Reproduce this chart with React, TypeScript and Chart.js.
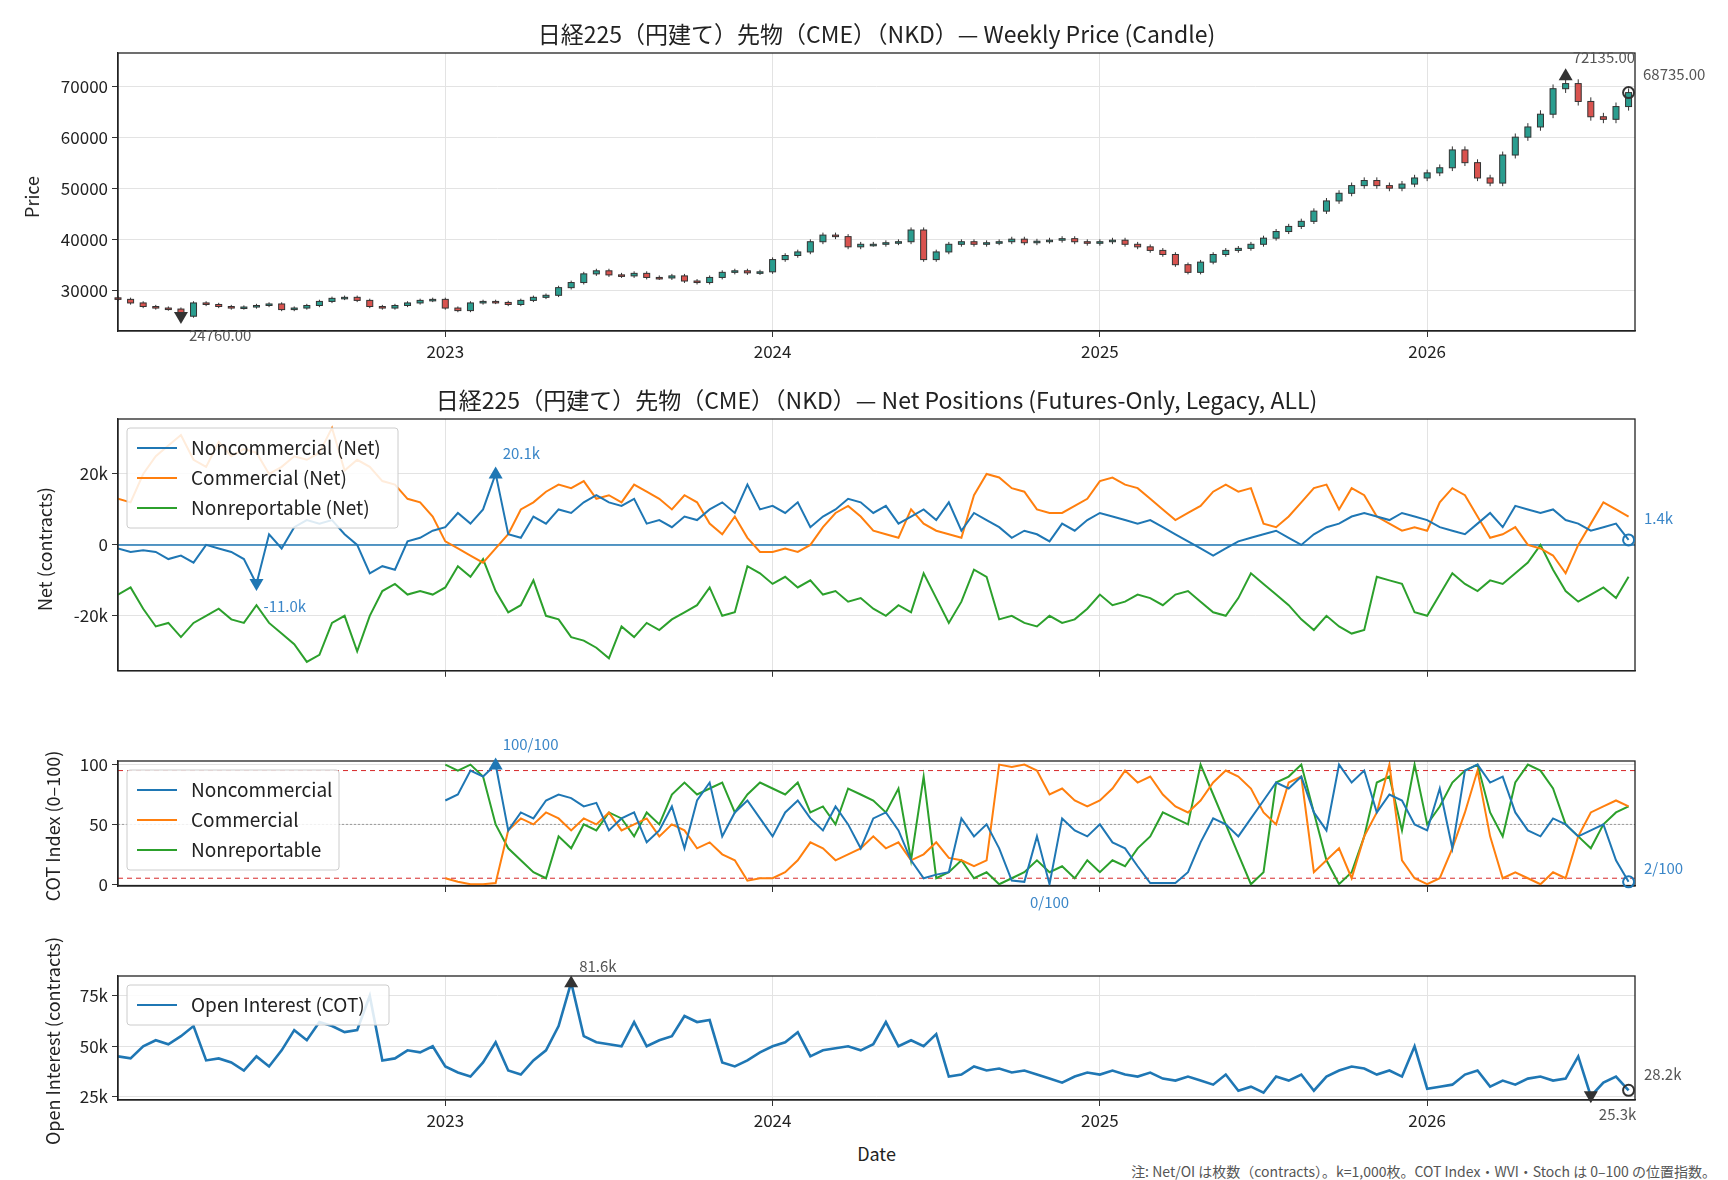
import React, { useEffect, useRef } from 'react';
import { Chart, registerables } from 'chart.js';
Chart.register(...registerables);

const START = 2022.0;
const STEP = 1 / 26;
const X_MIN = 2022.0;
const X_MAX = 2026.635;
const X_TICKS = [2023, 2024, 2025, 2026];

const CLOSE = [
  28200, 27500, 26800, 26500, 26300, 24900, 27500, 27200, 26800, 26500, 26700, 27000, 27300, 26200, 26500, 27000, 27800, 28400, 28600, 28000, 26800, 26500, 27000, 27500, 28000, 28200,
  26500, 26000, 27500, 27800, 27600, 27200, 28000, 28600, 29000, 30500, 31500, 33200, 33800, 33000, 32800, 33300, 32500, 32400, 32800, 31800, 31500, 32500, 33500, 33800, 33400, 33600,
  36000, 36800, 37500, 39500, 40800, 40500, 38500, 39000, 39000, 39300, 39500, 41800, 36000, 37500, 39000, 39500, 39000, 39300, 39500, 40000, 39300, 39600, 39800, 40100, 39500, 39200,
  39500, 39800, 39000, 38500, 37800, 37000, 35000, 33500, 35500, 37000, 37800, 38200, 39000, 40200, 41500, 42500, 43500, 45500, 47500, 49000, 50500, 51500, 50500, 50000, 50800, 52000,
  53000, 54000, 57500, 55000, 52000, 51000, 56500, 60000, 62000, 64500, 69500, 70500, 67000, 64000, 63500, 66000, 68735,
];
const PRICE_LOW = 24760;
const PRICE_HIGH = 72135;

const NC_NET = [
  -1, -2, -1.5, -2, -4, -3, -5, 0, -1, -2, -4, -11, 3, -1, 5, 7, 6, 7, 3, 0, -8, -6, -7, 1, 2, 4,
  5, 9, 6, 10, 20.1, 3, 2, 8, 6, 10, 9, 12, 14, 12, 11, 13, 6, 7, 5, 8, 7, 10, 12, 9, 17, 10,
  11, 9, 12, 5, 8, 10, 13, 12, 9, 11, 6, 8, 10, 7, 12, 4, 9, 7, 5, 2, 4, 3, 1, 6, 4, 7,
  9, 8, 7, 6, 7, 5, 3, 1, -1, -3, -1, 1, 2, 3, 4, 2, 0, 3, 5, 6, 8, 9, 8, 7, 9, 8,
  7, 5, 4, 3, 6, 9, 5, 11, 10, 9, 10, 7, 6, 4, 5, 6, 1.4,
];
const COM_NET = [
  13, 12, 20, 25, 28, 31, 24, 22, 29, 25, 27, 26, 20, 22, 25, 24, 26, 33, 21, 24, 22, 18, 17, 13, 12, 8,
  1, -1, -3, -5, -1, 3, 10, 12, 15, 17, 16, 18, 13, 14, 12, 17, 15, 13, 10, 14, 12, 6, 3, 8, 2, -2,
  -2, -1, -2, 0, 5, 9, 11, 8, 4, 3, 2, 10, 6, 4, 3, 2, 14, 20, 19, 16, 15, 10, 9, 9, 11, 13,
  18, 19, 17, 16, 13, 10, 7, 9, 11, 15, 17, 15, 16, 6, 5, 8, 12, 16, 17, 10, 16, 14, 8, 6, 4, 5,
  4, 12, 16, 14, 8, 2, 3, 5, 0, -1, -3, -8, 0, 6, 12, 10, 8,
];
const NR_NET = [
  -14, -12, -18, -23, -22, -26, -22, -20, -18, -21, -22, -17, -22, -25, -28, -33, -31, -22, -20, -30, -20, -13, -11, -14, -13, -14,
  -12, -6, -9, -4, -13, -19, -17, -10, -20, -21, -26, -27, -29, -32, -23, -26, -22, -24, -21, -19, -17, -12, -20, -19, -6, -8,
  -11, -9, -12, -10, -14, -13, -16, -15, -18, -20, -17, -19, -8, -15, -22, -16, -7, -9, -21, -20, -22, -23, -20, -22, -21, -18,
  -14, -17, -16, -14, -15, -17, -14, -13, -16, -19, -20, -15, -8, -11, -14, -17, -21, -24, -20, -23, -25, -24, -9, -10, -11, -19,
  -20, -14, -8, -11, -13, -10, -11, -8, -5, 0, -7, -13, -16, -14, -12, -15, -9,
];
const COT_START_INDEX = 26;
const NC_IDX = [
  70, 75, 95, 90, 100, 45, 60, 55, 70, 75, 72, 65, 68, 45, 55, 60, 35, 45, 65, 30, 70, 85, 40, 60, 70, 55,
  40, 60, 70, 55, 45, 65, 50, 30, 55, 60, 45, 20, 5, 8, 10, 55, 40, 50, 30, 3, 2, 40, 0, 55, 45, 40,
  50, 35, 30, 15, 1, 1, 1, 10, 35, 55, 50, 40, 55, 70, 85, 80, 90, 60, 45, 100, 85, 95, 60, 75, 70, 50,
  45, 80, 30, 95, 100, 85, 90, 60, 45, 40, 55, 50, 40, 45, 50, 20, 2,
];
const COM_IDX = [
  5, 2, 0, 0, 1, 45, 55, 50, 60, 55, 45, 55, 50, 60, 45, 50, 55, 40, 50, 45, 30, 35, 25, 20, 3, 5,
  5, 10, 20, 35, 30, 20, 25, 30, 40, 30, 35, 20, 25, 35, 22, 20, 15, 20, 100, 98, 100, 95, 75, 80, 70, 65,
  70, 80, 95, 85, 90, 75, 65, 60, 70, 85, 95, 90, 80, 60, 50, 85, 90, 10, 20, 30, 5, 40, 60, 100, 20, 5,
  0, 5, 30, 60, 95, 40, 5, 10, 5, 0, 10, 5, 40, 60, 65, 70, 65,
];
const NR_IDX = [
  100, 95, 100, 90, 50, 30, 20, 10, 5, 40, 30, 50, 45, 60, 55, 40, 60, 50, 75, 85, 75, 80, 85, 60, 75, 85,
  80, 75, 85, 60, 65, 50, 80, 75, 70, 60, 80, 20, 90, 5, 10, 20, 5, 10, 0, 5, 10, 20, 10, 15, 5, 20,
  10, 20, 15, 30, 40, 60, 55, 50, 100, 75, 50, 25, 0, 10, 85, 90, 100, 60, 20, 0, 10, 40, 85, 90, 45, 100,
  50, 65, 85, 95, 100, 60, 40, 85, 100, 95, 80, 50, 40, 30, 50, 60, 65,
];
const OI = [
  45, 44, 50, 53, 51, 55, 60, 43, 44, 42, 38, 45, 40, 48, 58, 53, 62, 60, 57, 58, 75, 43, 44, 48, 47, 50,
  40, 37, 35, 42, 52, 38, 36, 43, 48, 60, 81.6, 55, 52, 51, 50, 62, 50, 53, 55, 65, 62, 63, 42, 40, 43, 47,
  50, 52, 57, 45, 48, 49, 50, 48, 51, 62, 50, 53, 50, 56, 35, 36, 40, 38, 39, 37, 38, 36, 34, 32, 35, 37,
  36, 38, 36, 35, 37, 34, 33, 35, 33, 31, 36, 28, 30, 27, 35, 33, 36, 28, 35, 38, 40, 39, 36, 38, 35, 50,
  29, 30, 31, 36, 38, 30, 33, 31, 34, 35, 33, 34, 45, 25.3, 32, 35, 28.2,
];

const BLUE = '#1f77b4', ORANGE = '#ff7f0e', GREEN = '#2ca02c';
const FONT = '"Noto Sans CJK JP", "Noto Sans", sans-serif';
const PLOT_LEFT = 118, PLOT_RIGHT = 1635, W = 1728;
const PAD_TOP = 30;

const xOf = (i: number) => START + i * STEP;
const pts = (arr: number[], off = 0) => arr.map((v, i) => ({ x: xOf(i + off), y: v }));
const argmax = (a: number[]) => a.reduce((b, v, i) => (v > a[b] ? i : b), 0);
const argmin = (a: number[]) => a.reduce((b, v, i) => (v < a[b] ? i : b), 0);

type Mark = { x: number; y: number; kind: 'up' | 'down' | 'circle' | 'none'; color: string; label?: string; dx?: number; dy?: number; lc?: string; align?: CanvasTextAlign };

function tri(ctx: CanvasRenderingContext2D, x: number, y: number, up: boolean, color: string) {
  const s = 7;
  ctx.beginPath();
  if (up) { ctx.moveTo(x, y - s); ctx.lineTo(x - s, y + s * 0.7); ctx.lineTo(x + s, y + s * 0.7); }
  else { ctx.moveTo(x, y + s); ctx.lineTo(x - s, y - s * 0.7); ctx.lineTo(x + s, y - s * 0.7); }
  ctx.closePath(); ctx.fillStyle = color; ctx.fill();
}

function makeOptions(p: any) {
  return {
    responsive: false, animation: false, maintainAspectRatio: false,
    layout: { padding: { top: PAD_TOP, right: W - PLOT_RIGHT, left: 0, bottom: 0 } },
    plugins: { legend: { display: false }, title: { display: false }, tooltip: { enabled: false } },
    scales: {
      x: {
        type: 'linear', min: X_MIN, max: X_MAX,
        afterBuildTicks: (s: any) => { s.ticks = X_TICKS.map(v => ({ value: v })); },
        afterFit: (s: any) => { s.height = p.xh; },
        ticks: { display: p.showX, callback: (v: any) => String(v), color: '#222', font: { family: FONT, size: 17 }, maxRotation: 0, padding: 4 },
        grid: { color: '#e3e3e3', tickLength: 6, tickColor: '#333' },
        border: { color: '#222', width: 1.3 },
      },
      y: {
        min: p.ymin, max: p.ymax,
        afterBuildTicks: (s: any) => { s.ticks = p.yticks.map((v: number) => ({ value: v })); },
        afterFit: (s: any) => { s.width = PLOT_LEFT; },
        ticks: { callback: p.yfmt, color: '#222', font: { family: FONT, size: 17 }, padding: 4 },
        grid: { color: '#e3e3e3', tickLength: 6, tickColor: '#333' },
        border: { color: '#222', width: 1.3 },
      },
    },
  };
}

function overlayPlugin(p: { hlines?: any[]; legend?: { items: [string, string][]; w: number }; marks: Mark[]; candles?: boolean }) {
  return {
    id: 'overlay',
    beforeDatasetsDraw(chart: any) {
      const { ctx, chartArea: a, scales } = chart;
      ctx.save();
      (p.hlines || []).forEach(h => {
        const y = scales.y.getPixelForValue(h.v);
        ctx.strokeStyle = h.c; ctx.lineWidth = h.w; ctx.setLineDash(h.dash || []);
        ctx.beginPath(); ctx.moveTo(a.left, y); ctx.lineTo(a.right, y); ctx.stroke();
      });
      ctx.restore();
      if (p.candles) {
        ctx.save();
        CLOSE.forEach((c, i) => {
          const o = i === 0 ? c + 300 : CLOSE[i - 1];
          const x = scales.x.getPixelForValue(xOf(i));
          const hi = Math.max(o, c) * 1.012, lo = Math.min(o, c) * 0.988;
          ctx.strokeStyle = '#333'; ctx.lineWidth = 1;
          ctx.beginPath(); ctx.moveTo(x, scales.y.getPixelForValue(hi)); ctx.lineTo(x, scales.y.getPixelForValue(lo)); ctx.stroke();
          const y1 = scales.y.getPixelForValue(Math.max(o, c)), y2 = scales.y.getPixelForValue(Math.min(o, c));
          ctx.fillStyle = c >= o ? '#2a9d8f' : '#d9534f';
          ctx.fillRect(x - 3, y1, 6, Math.max(1.5, y2 - y1));
          ctx.strokeRect(x - 3, y1, 6, Math.max(1.5, y2 - y1));
        });
        ctx.restore();
      }
    },
    afterDraw(chart: any) {
      const { ctx, chartArea: a, scales } = chart;
      ctx.save();
      ctx.strokeStyle = '#222'; ctx.lineWidth = 1.3;
      ctx.strokeRect(a.left, a.top, a.right - a.left, a.bottom - a.top);
      if (p.legend) {
        const n = p.legend.items.length;
        const bx = a.left + 9, by = a.top + 9, bh = n * 30 + 10;
        ctx.fillStyle = 'rgba(255,255,255,0.85)'; ctx.strokeStyle = '#ccc'; ctx.lineWidth = 1;
        ctx.beginPath(); ctx.roundRect(bx, by, p.legend.w, bh, 3); ctx.fill(); ctx.stroke();
        p.legend.items.forEach(([t, c], i) => {
          const y = by + 20 + i * 30;
          ctx.strokeStyle = c; ctx.lineWidth = 2.2;
          ctx.beginPath(); ctx.moveTo(bx + 10, y); ctx.lineTo(bx + 50, y); ctx.stroke();
          ctx.fillStyle = '#222'; ctx.font = `19px ${FONT}`; ctx.textBaseline = 'middle'; ctx.textAlign = 'left';
          ctx.fillText(t, bx + 64, y);
        });
      }
      p.marks.forEach(m => {
        const x = scales.x.getPixelForValue(m.x), y = scales.y.getPixelForValue(m.y);
        if (m.kind === 'up') tri(ctx, x, y, true, m.color);
        if (m.kind === 'down') tri(ctx, x, y, false, m.color);
        if (m.kind === 'circle') {
          ctx.strokeStyle = m.color; ctx.lineWidth = 2;
          ctx.beginPath(); ctx.arc(x, y, 5.5, 0, Math.PI * 2); ctx.stroke();
        }
        if (m.label) {
          ctx.fillStyle = m.lc || '#555'; ctx.font = `15px ${FONT}`; ctx.textBaseline = 'middle';
          ctx.textAlign = m.align || 'left';
          ctx.fillText(m.label, x + (m.dx || 0), y + (m.dy || 0));
        }
      });
      ctx.restore();
    },
  };
}

function Panel({ top, h, config }: { top: number; h: number; config: any }) {
  const ref = useRef<HTMLCanvasElement>(null);
  useEffect(() => {
    const c = new Chart(ref.current!, config);
    return () => c.destroy();
  }, []);
  return <canvas ref={ref} width={W} height={h} style={{ position: 'absolute', left: 0, top, width: W, height: h }} />;
}

const line = (data: any[], color: string, w = 2) => ({ type: 'line', data, borderColor: color, borderWidth: w, pointRadius: 0, tension: 0, fill: false });

export default function App() {
  useEffect(() => { document.body.style.margin = '0'; }, []);
  const last = CLOSE.length - 1;
  const pHi = argmax(CLOSE), pLo = argmin(CLOSE);

  const c1 = {
    data: { datasets: [{ type: 'line', data: pts(CLOSE), borderWidth: 0, pointRadius: 0, borderColor: 'rgba(0,0,0,0)' }] },
    options: makeOptions({ xh: 40, showX: true, ymin: 22000, ymax: 76500, yticks: [30000, 40000, 50000, 60000, 70000], yfmt: (v: any) => String(v) }),
    plugins: [overlayPlugin({
      candles: true,
      marks: [
        { x: xOf(pHi), y: PRICE_HIGH, kind: 'up', color: '#333', label: PRICE_HIGH.toFixed(2), dx: 7, dy: -18 },
        { x: xOf(pLo), y: PRICE_LOW, kind: 'down', color: '#333', label: PRICE_LOW.toFixed(2), dx: 8, dy: 18 },
        { x: xOf(last), y: CLOSE[last], kind: 'circle', color: '#333' },
        { x: X_MAX, y: CLOSE[last], kind: 'none', color: '#333', label: CLOSE[last].toFixed(2), dx: 8, dy: -18 },
      ],
    })],
  };
  const nHi = argmax(NC_NET), nLo = argmin(NC_NET), nl = NC_NET.length - 1;
  const c2 = {
    data: { datasets: [line(pts(NC_NET), BLUE), line(pts(COM_NET), ORANGE), line(pts(NR_NET), GREEN)] },
    options: makeOptions({ xh: 12, showX: false, ymin: -35.5, ymax: 35.5, yticks: [-20, 0, 20], yfmt: (v: any) => (v === 0 ? '0' : v + 'k') }),
    plugins: [overlayPlugin({
      hlines: [{ v: 0, c: BLUE, w: 1.5 }],
      legend: { items: [['Noncommercial (Net)', BLUE], ['Commercial (Net)', ORANGE], ['Nonreportable (Net)', GREEN]], w: 271 },
      marks: [
        { x: xOf(nHi), y: NC_NET[nHi], kind: 'up', color: BLUE, label: NC_NET[nHi].toFixed(1) + 'k', dx: 7, dy: -20, lc: '#3a86c8' },
        { x: xOf(nLo), y: NC_NET[nLo], kind: 'down', color: BLUE, label: NC_NET[nLo].toFixed(1) + 'k', dx: 7, dy: 22, lc: '#3a86c8' },
        { x: xOf(nl), y: NC_NET[nl], kind: 'circle', color: BLUE },
        { x: X_MAX, y: NC_NET[nl], kind: 'none', color: BLUE, label: NC_NET[nl].toFixed(1) + 'k', dx: 9, dy: -22, lc: '#3a86c8' },
      ],
    })],
  };
  const iHi = argmax(NC_IDX), iLo = argmin(NC_IDX), il = NC_IDX.length - 1;
  const c3 = {
    data: { datasets: [line(pts(NC_IDX, COT_START_INDEX), BLUE), line(pts(COM_IDX, COT_START_INDEX), ORANGE), line(pts(NR_IDX, COT_START_INDEX), GREEN)] },
    options: makeOptions({ xh: 30, showX: false, ymin: -1.5, ymax: 103, yticks: [0, 50, 100], yfmt: (v: any) => String(v) }),
    plugins: [overlayPlugin({
      hlines: [{ v: 95, c: '#d62728', w: 1, dash: [5, 4] }, { v: 5, c: '#d62728', w: 1, dash: [5, 4] }, { v: 50, c: '#999', w: 1, dash: [2, 2] }],
      legend: { items: [['Noncommercial', BLUE], ['Commercial', ORANGE], ['Nonreportable', GREEN]], w: 212 },
      marks: [
        { x: xOf(iHi + COT_START_INDEX), y: NC_IDX[iHi], kind: 'up', color: BLUE, label: `${NC_IDX[iHi]}/100`, dx: 7, dy: -20, lc: '#3a86c8' },
        { x: xOf(iLo + COT_START_INDEX), y: NC_IDX[iLo], kind: 'none', color: BLUE, label: `${NC_IDX[iLo]}/100`, dx: 0, dy: 18, lc: '#3a86c8', align: 'center' },
        { x: xOf(il + COT_START_INDEX), y: NC_IDX[il], kind: 'circle', color: BLUE },
        { x: X_MAX, y: NC_IDX[il], kind: 'none', color: BLUE, label: `${NC_IDX[il]}/100`, dx: 9, dy: -14, lc: '#3a86c8' },
      ],
    })],
  };
  const oHi = argmax(OI), oLo = argmin(OI), ol = OI.length - 1;
  const c4 = {
    data: { datasets: [line(pts(OI), BLUE, 2.6)] },
    options: makeOptions({ xh: 40, showX: true, ymin: 23.4, ymax: 84.8, yticks: [25, 50, 75], yfmt: (v: any) => v + 'k' }),
    plugins: [overlayPlugin({
      legend: { items: [['Open Interest (COT)', BLUE]], w: 262 },
      marks: [
        { x: xOf(oHi), y: OI[oHi], kind: 'up', color: '#333', label: OI[oHi].toFixed(1) + 'k', dx: 8, dy: -16 },
        { x: xOf(oLo), y: OI[oLo], kind: 'down', color: '#333', label: OI[oLo].toFixed(1) + 'k', dx: 8, dy: 18 },
        { x: xOf(ol), y: OI[ol], kind: 'circle', color: '#333' },
        { x: X_MAX, y: OI[ol], kind: 'none', color: '#333', label: OI[ol].toFixed(1) + 'k', dx: 9, dy: -16 },
      ],
    })],
  };

  const txt = (s: string, style: React.CSSProperties) => <div style={{ position: 'absolute', fontFamily: FONT, color: '#222', whiteSpace: 'nowrap', ...style }}>{s}</div>;
  const ytitle = (s: string, x: number, y: number) => txt(s, { left: x, top: y, fontSize: 18, transform: 'translate(-50%,-50%) rotate(-90deg)' });
  const mid = (PLOT_LEFT + PLOT_RIGHT) / 2;

  return (
    <div style={{ position: 'relative', width: W, height: 1180, background: '#fff', overflow: 'hidden' }}>
      <Panel top={53 - PAD_TOP} h={331 - 53 + PAD_TOP + 40} config={c1} />
      <Panel top={419 - PAD_TOP} h={673 - 419 + PAD_TOP + 12} config={c2} />
      <Panel top={761 - PAD_TOP} h={886 - 761 + PAD_TOP + 30} config={c3} />
      <Panel top={976 - PAD_TOP} h={1100 - 976 + PAD_TOP + 40} config={c4} />
      {txt('日経225（円建て）先物（CME）（NKD）— Weekly Price (Candle)', { left: mid, top: 33, fontSize: 23, transform: 'translate(-50%,-50%)' })}
      {txt('日経225（円建て）先物（CME）（NKD）— Net Positions (Futures-Only, Legacy, ALL)', { left: mid, top: 399, fontSize: 23, transform: 'translate(-50%,-50%)' })}
      {ytitle('Price', 31, 197)}
      {ytitle('Net (contracts)', 44, 549)}
      {ytitle('COT Index (0–100)', 52, 826)}
      {ytitle('Open Interest (contracts)', 52, 1041)}
      {txt('Date', { left: mid, top: 1153, fontSize: 18, transform: 'translate(-50%,-50%)' })}
      {txt('注: Net/OI は枚数（contracts）。k=1,000枚。COT Index・WVI・Stoch は 0–100 の位置指数。', { right: 12, top: 1171, fontSize: 14, color: '#555', transform: 'translateY(-50%)' })}
    </div>
  );
}
